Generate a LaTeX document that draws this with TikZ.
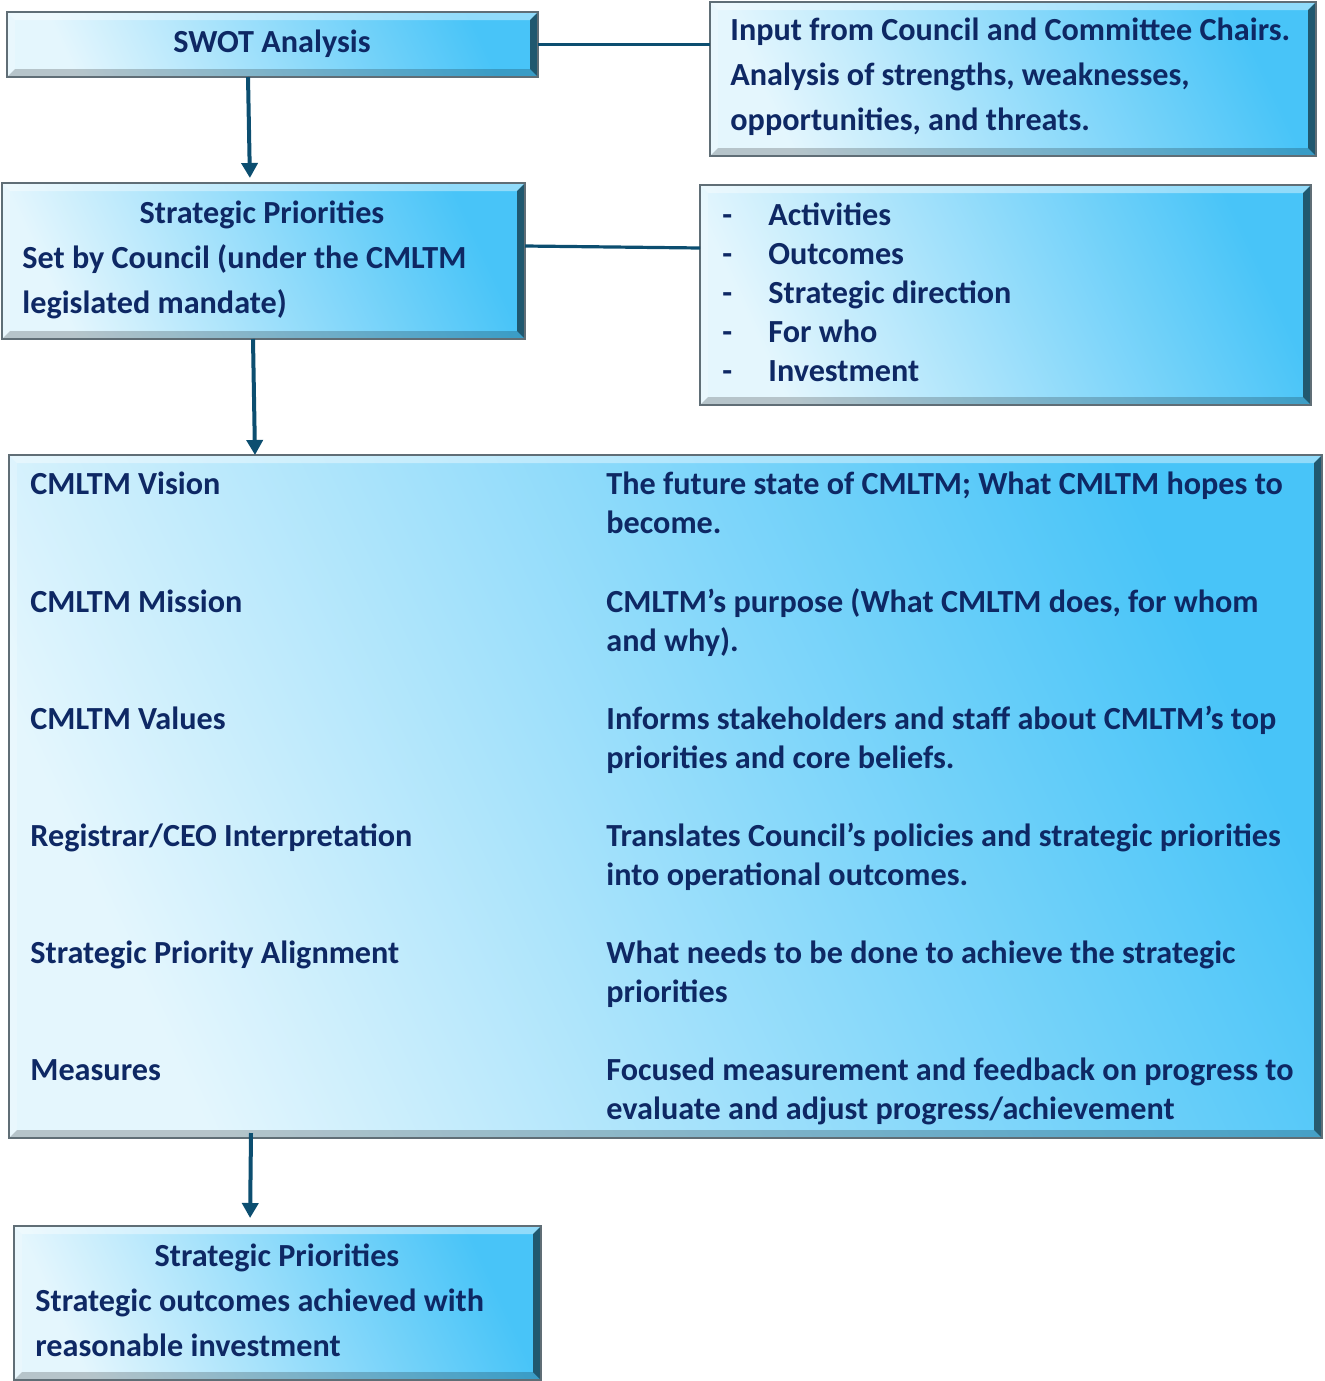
\documentclass[tikz,border=0pt]{standalone}
\usepackage{fontspec}
\setmainfont{Carlito}
\usepackage{tikz}
\usetikzlibrary{positioning,arrows.meta}

\definecolor{ink}{RGB}{14,40,100}
\definecolor{flowc}{RGB}{12,78,112}
\definecolor{boxlight}{RGB}{228,246,253}
\definecolor{boxmid}{RGB}{125,214,250}
\definecolor{boxdeep}{RGB}{72,196,248}
\definecolor{boxedge}{RGB}{96,110,118}

% lines of a text, first baseline on top
\newcommand{\rows}[1]{\begin{tabular}[t]{@{}l@{}}#1\end{tabular}}

\begin{document}
\begin{tikzpicture}[x=0.5pt,y=-0.5pt,
    >={Triangle[width=8pt,length=7.5pt]},
    bb/.style={%
      rectangle, draw=boxedge, line width=1.2pt,
      top color=boxdeep, middle color=boxmid, bottom color=boxlight,
      shading angle=-65,
      inner sep=0pt, outer sep=0pt,
      path picture={
        \fill[white,opacity=0.4] (path picture bounding box.north west)
          -- (path picture bounding box.north east)
          -- ([xshift=-4pt,yshift=-4pt]path picture bounding box.north east)
          -- ([xshift=4pt,yshift=-4pt]path picture bounding box.north west) -- cycle;
        \fill[white,opacity=0.2] (path picture bounding box.north west)
          -- (path picture bounding box.south west)
          -- ([xshift=4pt,yshift=4pt]path picture bounding box.south west)
          -- ([xshift=4pt,yshift=-4pt]path picture bounding box.north west) -- cycle;
        \fill[black,opacity=0.2] (path picture bounding box.south west)
          -- (path picture bounding box.south east)
          -- ([xshift=-4pt,yshift=4pt]path picture bounding box.south east)
          -- ([xshift=4pt,yshift=4pt]path picture bounding box.south west) -- cycle;
        \fill[black,opacity=0.55] (path picture bounding box.north east)
          -- (path picture bounding box.south east)
          -- ([xshift=-4pt,yshift=4pt]path picture bounding box.south east)
          -- ([xshift=-4pt,yshift=-4pt]path picture bounding box.north east) -- cycle;
      }
    },
    txt/.style={%
      anchor=base west, inner sep=0pt, text=ink,
      font=\bfseries\fontsize{16.1}{19.5}\selectfont
    },
    wide/.style={txt, font=\bfseries\fontsize{16.1}{22.5}\selectfont},
    ctr/.style={txt, anchor=base},
    flow/.style={->, draw=flowc, line width=2pt},
    link/.style={draw=flowc, line width=1.6pt}
]
    \useasboundingbox (0,0) rectangle (1324,1381);

    % boxes
    \node[bb, minimum width=265.5pt, minimum height=32.5pt] (swot)   at (272.5,44.5)  {};
    \node[bb, minimum width=303pt,   minimum height=77pt]   (input)  at (1013,79)     {};
    \node[bb, minimum width=261.5pt, minimum height=78pt]   (prio)   at (263.5,261)   {};
    \node[bb, minimum width=305.5pt, minimum height=110pt]  (acts)   at (1005.5,295)  {};
    \node[bb, minimum width=656.5pt, minimum height=341.5pt] (plan)  at (665.5,796.5) {};
    \node[bb, minimum width=263.5pt, minimum height=77pt]   (result) at (277.5,1303)  {};

    % box texts
    \node[ctr] (swott) at (272,52) {SWOT Analysis};
    \node[wide] (inputt) at (730,40)
      {\rows{Input from Council and Committee Chairs.\\
       Analysis of strengths, weaknesses,\\
       opportunities, and threats.}};
    \node[ctr] (prioh) at (262,223) {Strategic Priorities};
    \node[wide] (priot) at (22,268)
      {\rows{Set by Council (under the CMLTM\\ legislated mandate)}};
    \node[txt] (dash) at (722,225) {\rows{-\\-\\-\\-\\-}};
    \node[txt] (actst) at (768,225)
      {\rows{Activities\\ Outcomes\\ Strategic direction\\ For who\\ Investment}};

    \node[txt] (vis)  at (30,494)  {CMLTM Vision};
    \node[txt] (visd) at (606,494)
      {\rows{The future state of CMLTM; What CMLTM hopes to\\ become.}};
    \node[txt] (mis)  at (30,612)  {CMLTM Mission};
    \node[txt] (misd) at (606,612)
      {\rows{CMLTM’s purpose (What CMLTM does, for whom\\ and why).}};
    \node[txt] (val)  at (30,729)  {CMLTM Values};
    \node[txt] (vald) at (606,729)
      {\rows{Informs stakeholders and staff about CMLTM’s top\\ priorities and core beliefs.}};
    \node[txt] (reg)  at (30,846)  {Registrar/CEO Interpretation};
    \node[txt] (regd) at (606,846)
      {\rows{Translates Council’s policies and strategic priorities\\ into operational outcomes.}};
    \node[txt] (ali)  at (30,963)  {Strategic Priority Alignment};
    \node[txt] (alid) at (606,963)
      {\rows{What needs to be done to achieve the strategic\\ priorities}};
    \node[txt] (mea)  at (30,1080) {Measures};
    \node[txt] (mead) at (606,1080)
      {\rows{Focused measurement and feedback on progress to\\ evaluate and adjust progress/achievement}};

    \node[ctr] (resh) at (277,1266) {Strategic Priorities};
    \node[wide] (rest) at (35,1311)
      {\rows{Strategic outcomes achieved with\\ reasonable investment}};

    % connectors
    \path (swot.east) edge[link] (swot.east -| input.west)
          ([yshift=7.5pt]prio.east) edge[link] ([yshift=23.5pt]acts.west);
    \path ([xshift=-12.25pt]swot.south) edge[flow, shorten >=2.5pt] ([xshift=-6.75pt]prio.north)
          ([xshift=-5.25pt]prio.south) edge[flow] ([xshift=-205.25pt]plan.north)
          ([xshift=-207.25pt,yshift=2.5pt]plan.south) edge[flow, shorten >=4pt] ([xshift=-13.75pt]result.north)
    ;

\end{tikzpicture}
\end{document}
